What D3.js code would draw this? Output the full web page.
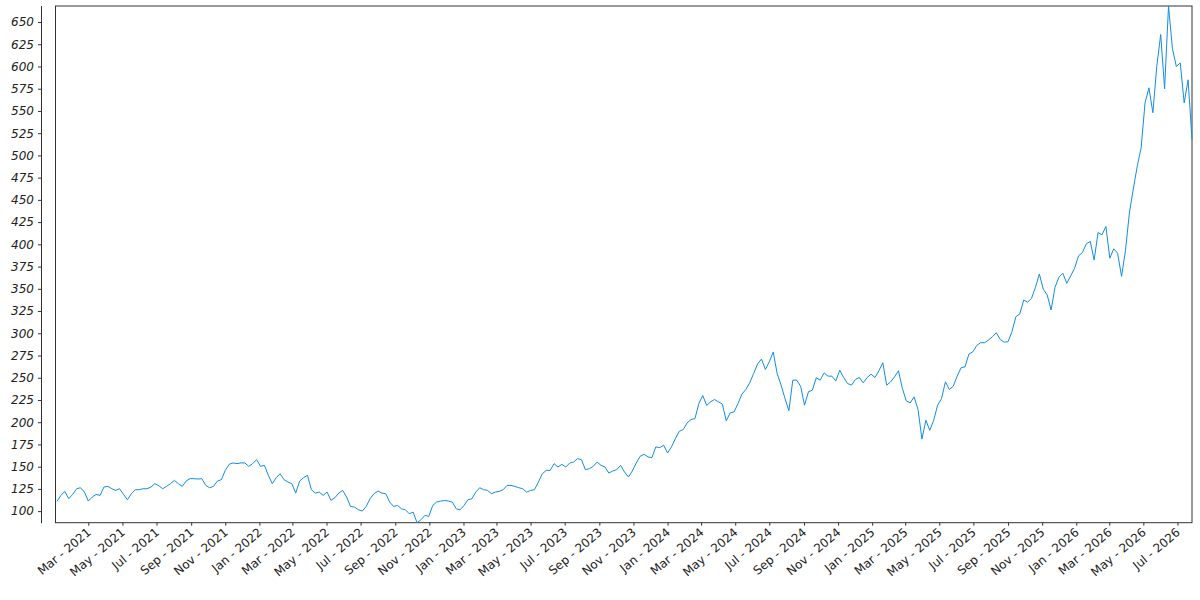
<!DOCTYPE html>
<html>
<head>
<meta charset="utf-8">
<script src="https://cdn.jsdelivr.net/npm/d3@7"></script>
<style>
  body { margin: 0; background: #fff; }
  svg { display: block; }
  .frame { fill: none; stroke: #333; stroke-width: 1; }
  .yaxis text { font-family: "DejaVu Sans", sans-serif; font-style: italic; font-size: 12px; fill: #222; }
  .xaxis text { font-family: "DejaVu Sans", sans-serif; font-size: 12px; fill: #222; }
  .yaxis path, .yaxis line, .xaxis line { stroke: #333; }
</style>
</head>
<body>
<script>
// weekly closes (first week starts 2021-01-04)
var startDate = new Date(2021, 0, 4);
var closes = [
  111, 117.7, 122.2, 114, 118.8, 125.2, 126.3, 121.5, 111.3, 115.8,
  118.8, 117.7, 127.1, 127.9, 125.2, 123.3, 125.2, 118.8, 112.8, 119.6,
  124.1, 124.1, 125.2, 125.2, 127.1, 130.9, 128.6, 125.2, 127.9, 130.9,
  134.6, 130.9, 127.9, 133.9, 136.5, 136.5, 136.1, 136.5, 129, 126.3,
  127.9, 133.9, 135.4, 145.9, 152.7, 154.2, 153.4, 154.2, 154.2, 150.4,
  153.4, 157.9, 150.4, 151.5, 140.3, 130.9, 137.6, 142.1, 135.4, 132.7,
  130.9, 120.3, 133.9, 137.6, 140.3, 124.1, 120.3, 121.5, 117.7, 121.5,
  112.1, 115.1, 120.3, 123.3, 115.8, 105.3, 104.6, 101.6, 100.1, 105.3,
  114, 119.6, 122.6, 120.3, 119.6, 110.2, 105.3, 106.4, 102.7, 101.6,
  97.1, 98.9, 87, 90.3, 95.2, 94.1, 106.4, 110.2, 111.3, 112,
  111.3, 110.2, 102.6, 101.5, 106.4, 112.8, 113.9, 121.4, 126.3, 124.1,
  123.3, 119.6, 121.4, 122.2, 124.1, 128.9, 128.9, 127.8, 126.3, 125.2,
  121.4, 123.3, 124.1, 132.7, 142.1, 145.8, 145.8, 153.4, 149.6, 152.6,
  149.6, 154.1, 155.2, 159, 157.9, 146.6, 147.7, 150.4, 155.2, 151.5,
  149.6, 142.8, 145.1, 146.6, 151.5, 144, 138.4, 145.1, 154.1, 161.7,
  163.9, 160.9, 160.2, 172.2, 171.4, 174.1, 165.4, 172.2, 181.6, 189.8,
  191.7, 199.2, 203, 204.1, 221, 230, 218.8, 222.9, 225.5, 222.9,
  220.3, 201.5, 210.5, 211.6, 221, 231.5, 236.8, 244.3, 254.8, 265.4,
  271, 259.3, 268, 279, 254.8, 241.7, 226.7, 213, 247.3, 247.3,
  240.5, 219.1, 234.2, 236, 250, 247.3, 255.5, 251.8, 251.8, 246.5,
  258.5, 250.3, 243.5, 241.6, 248, 250.3, 244.3, 250.3, 254, 250.3,
  257.8, 266.8, 241.6, 245.4, 251, 257.8, 237.9, 224, 221.7, 228.5,
  214.2, 181, 202.2, 190.9, 202.2, 219.1, 226.6, 245.4, 236.8, 240.5,
  251.8, 261.2, 262.3, 276.6, 279.2, 286.3, 289.4, 289.4, 292.4, 296.1,
  300.6, 293, 290, 290.5, 301.8, 318.7, 321.7, 337.4, 335, 339.3,
  351.7, 366.7, 349.5, 343.1, 326.2, 351.7, 363, 367.5, 356.2, 364.5,
  373.1, 387, 390.8, 400.6, 403.2, 382.5, 413.3, 410.7, 420.1, 384.4,
  395, 390, 364, 393, 435.2, 462.2, 487.7, 508.4, 559.1, 576,
  548, 600, 636, 575, 668, 620, 600, 604, 559, 585,
  518
];
var yTicks = d3.range(100, 651, 25);
var tickFormat = d3.timeFormat('%b - %Y');

var W = 1200, H = 600;
var plotLeft = 55.5, lineLeft = 57, plotRight = 1192, plotTop = 6, plotBottom = 522.7;

var data = closes.map(function(v, i){
  return { date: d3.timeDay.offset(startDate, 7 * i), value: v };
});

var svg = d3.select('body').append('svg')
  .attr('width', W)
  .attr('height', H);

var x = d3.scaleTime()
  .domain(d3.extent(data, function(d){ return d.date; }))
  .range([lineLeft, plotRight]);

var y = d3.scaleLinear()
  .domain(d3.extent(data, function(d){ return d.value; }))
  .range([plotBottom, plotTop]);

// frame
svg.append('rect')
  .attr('class', 'frame')
  .attr('x', plotLeft)
  .attr('y', plotTop)
  .attr('width', plotRight - plotLeft)
  .attr('height', plotBottom - plotTop);

// y axis, offset to the left of the frame
svg.append('g')
  .attr('class', 'yaxis')
  .attr('transform', 'translate(41,0)')
  .call(d3.axisLeft(y).tickValues(yTicks).tickSize(3).tickSizeOuter(0).tickPadding(4))
  .select('.domain')
  .attr('d', 'M0.5,' + plotTop + 'V' + (plotBottom + 0.5));

// x axis
var gx = svg.append('g')
  .attr('class', 'xaxis')
  .attr('transform', 'translate(0,' + plotBottom + ')')
  .call(d3.axisBottom(x).ticks(d3.timeMonth.every(2)).tickFormat(tickFormat).tickSize(3).tickSizeOuter(0));

gx.select('.domain').remove();
gx.selectAll('text')
  .attr('text-anchor', 'end')
  .attr('x', 0)
  .attr('y', 0)
  .attr('dx', 0)
  .attr('dy', 0)
  .attr('transform', 'translate(3,11) rotate(-40)');

// price line
svg.append('path')
  .datum(data)
  .attr('fill', 'none')
  .attr('stroke', '#138ce6')
  .attr('stroke-width', 1)
  .attr('stroke-linejoin', 'round')
  .attr('d', d3.line()
    .x(function(d){ return x(d.date); })
    .y(function(d){ return y(d.value); }));
</script>
</body>
</html>
